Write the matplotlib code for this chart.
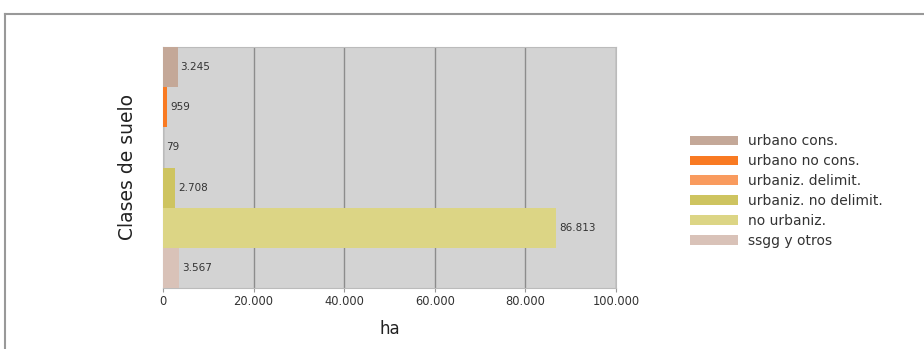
import matplotlib.pyplot as plt
from matplotlib.lines import Line2D
from matplotlib.patches import Patch

# Superficie por clase de suelo (ha)
clases = ['urbano cons.', 'urbano no cons.', 'urbaniz. delimit.',
          'urbaniz. no delimit.', 'no urbaniz.', 'ssgg y otros']
hectareas = [3245, 959, 79, 2708, 86813, 3567]
colores = ['#C4A898', '#F97A22', '#F99B5E', '#CEC460', '#DCD585', '#D9C2B8']
ticks_x = [0, 20000, 40000, 60000, 80000, 100000]


def formato_es(v):
    return f'{v:,.0f}'.replace(',', '.')


fig = plt.figure(figsize=(9.24, 3.49), dpi=100)
fig.patch.set_facecolor('white')

# marco exterior (linea superior e izquierda)
fig.add_artist(Line2D([5 / 924, 1], [1 - 14 / 349, 1 - 14 / 349],
                      color='#999999', linewidth=1.5, transform=fig.transFigure))
fig.add_artist(Line2D([5 / 924, 5 / 924], [0, 1 - 14 / 349],
                      color='#999999', linewidth=1.5, transform=fig.transFigure))

ax = fig.add_axes([163 / 924, 1 - 288 / 349, 453 / 924, 241 / 349])
ax.set_facecolor('#D3D3D3')

posiciones = list(range(len(clases)))
barras = ax.barh(posiciones, hectareas, height=1.0, color=colores, zorder=3)
ax.bar_label(barras, labels=[formato_es(v) for v in hectareas],
             padding=2, fontsize=7.5, color='#333333', zorder=4)

ax.set_ylim(len(clases) - 0.5, -0.5)
ax.set_xlim(0, 100000)
ax.set_xticks(ticks_x)
ax.set_xticklabels([formato_es(t) for t in ticks_x], fontsize=8.3, color='#333333')
ax.set_yticks([])
ax.grid(axis='x', color='#8C8C8C', linewidth=1, zorder=1)
ax.tick_params(axis='x', length=3, color='#999999', pad=2)
for lado in ax.spines.values():
    lado.set_color('#BBBBBB')

ax.set_xlabel('ha', fontsize=12, color='#222222', labelpad=9)
ax.set_ylabel('Clases de suelo', fontsize=13.5, color='#222222', labelpad=19)

handles = [Patch(facecolor=c, edgecolor='none') for c in colores]
fig.legend(handles, clases, loc='center left', bbox_to_anchor=(677 / 924, 1 - 191 / 349),
           frameon=False, fontsize=10, handlelength=3.5, handleheight=0.7,
           labelspacing=0.42, handletextpad=0.7, labelcolor='#333333')

plt.savefig('out.png', dpi=100)
